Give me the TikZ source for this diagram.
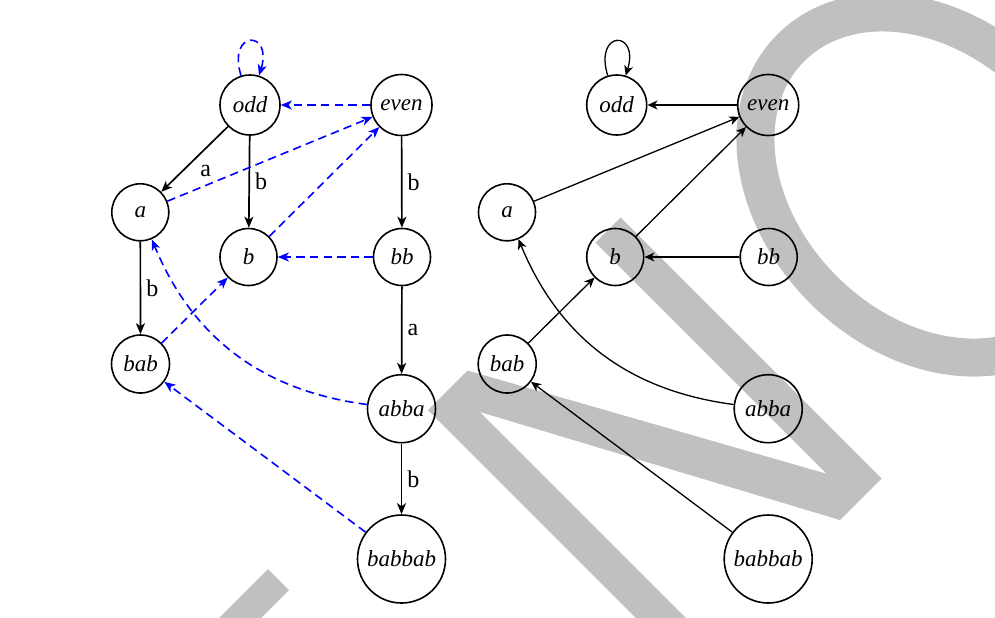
\documentclass[tikz,border=0pt]{standalone}
\usepackage{fontspec}
\setmainfont{Liberation Serif}
\usetikzlibrary{arrows.meta}
\definecolor{wm}{RGB}{192,192,192}
\begin{document}
\begin{tikzpicture}[x=0.5pt,y=-0.5pt,
  st/.style={draw, circle, line width=0.8pt, inner sep=0pt, font=\fontsize{11.5}{13}\selectfont\itshape},
  lab/.style={font=\fontsize{12}{14}\selectfont, inner sep=2.5pt},
  tr/.style={-{Stealth[length=5.5pt,width=4.5pt,inset=1.5pt]}, line width=0.85pt},
  fl/.style={-{Stealth[length=5.5pt,width=4.5pt,inset=1.5pt]}, blue, dash pattern=on 4.2pt off 2.6pt, line width=0.8pt},
  rt/.style={-{Stealth[length=5pt,width=4.5pt,inset=1.5pt]}, line width=0.65pt}]
\useasboundingbox (0,0) rectangle (995,617);
% watermark
\begin{scope}
\clip (0,0) rectangle (995,617);
\fill[wm] (268,569) -- (289,590) -- (89,790) -- (68,769) -- cycle;
\fill[wm] (689,671) -- (428,410.1) -- (467.5,370.5) -- (826.8,473.8) -- (595.5,242.5) -- (620.6,217.5) -- (881.6,478.5) -- (840,520) -- (480,412) -- (714,646) -- cycle;
\begin{scope}[shift={(928,185)}, rotate=-45]
\draw[wm, line width=19pt] (0,0) ellipse [x radius=97pt, y radius=74pt];
\end{scope}
\end{scope}
% left graph
\node[st, minimum size=30pt] (lodd) at (250,105) {odd};
\node[st, minimum size=30.5pt] (leven) at (401.5,105) {even};
\node[st, minimum size=28.5pt] (la) at (140.3,212.3) {a};
\node[st, minimum size=28.5pt] (lb) at (248.5,257) {b};
\node[st, minimum size=28.5pt] (lbb) at (402,257) {bb};
\node[st, minimum size=29pt] (lbab) at (140.5,364) {bab};
\node[st, minimum size=34pt] (labba) at (401.5,408.7) {abba};
\node[st, minimum size=44pt] (lbabbab) at (401.5,559) {babbab};
\draw[tr] (lodd) -- node[lab, auto] {a} (la);
\draw[tr] (lodd) -- node[lab, auto] {b} (lb);
\draw[tr] (leven) -- node[lab, auto] {b} (lbb);
\draw[tr] (la) -- node[lab, auto] {b} (lbab);
\draw[tr] (lbb) -- node[lab, auto] {a} (labba);
\draw[tr] (labba) -- node[lab, auto] {b} (lbabbab);
\draw[fl] (lodd.107) .. controls +(107:24pt) and +(73:24pt) .. (lodd.73);
\draw[fl] (leven) -- (lodd);
\draw[fl] (la) -- (leven);
\draw[fl] (lb) -- (leven);
\draw[fl] (lbb) -- (lb);
\draw[fl] (lbab) -- (lb);
\draw[fl] (labba) to[bend left=30] (la);
\draw[fl] (lbabbab) -- (lbab);
% right graph
\node[st, minimum size=30pt] (rodd) at (616.7,105) {odd};
\node[st, minimum size=30.5pt] (reven) at (768.2,105) {even};
\node[st, minimum size=28.5pt] (ra) at (507,212.3) {a};
\node[st, minimum size=28.5pt] (rb) at (615.2,257) {b};
\node[st, minimum size=28.5pt] (rbb) at (768.7,257) {bb};
\node[st, minimum size=29pt] (rbab) at (507.2,364) {bab};
\node[st, minimum size=34pt] (rabba) at (768.2,408.7) {abba};
\node[st, minimum size=44pt] (rbabbab) at (768.2,559) {babbab};
\draw[rt] (rodd.107) .. controls +(107:24pt) and +(73:24pt) .. (rodd.73);
\draw[rt] (reven) -- (rodd);
\draw[rt] (ra) -- (reven);
\draw[rt] (rb) -- (reven);
\draw[rt] (rbb) -- (rb);
\draw[rt] (rbab) -- (rb);
\draw[rt] (rabba) to[bend left=30] (ra);
\draw[rt] (rbabbab) -- (rbab);
\end{tikzpicture}
\end{document}
